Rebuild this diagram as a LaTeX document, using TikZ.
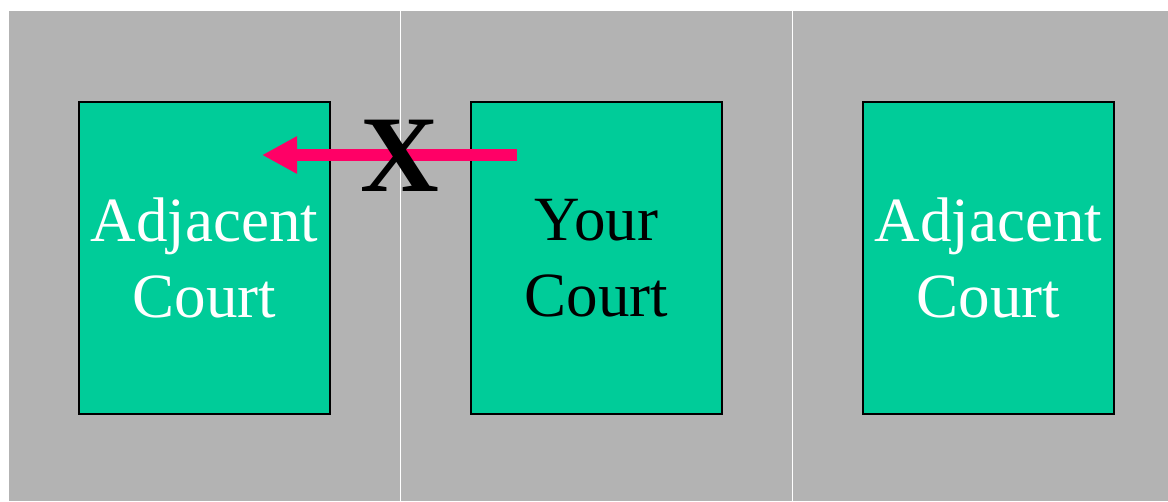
\documentclass[tikz,border=0pt]{standalone}
\usepackage{fontspec}
\setmainfont{Liberation Serif}
\usetikzlibrary{arrows.meta,positioning}

\definecolor{courtgreen}{RGB}{0,204,153}
\definecolor{floorgray}{RGB}{179,179,179}
\definecolor{shotpink}{RGB}{255,0,102}

\begin{document}
\begin{tikzpicture}[x=1pt, y=-1pt]

			\def\courtY{258}

			\tikzset{
				court/.style={draw=black, line width=2pt, fill=courtgreen,
					minimum width=251pt, minimum height=312pt, inner sep=0pt,
					align=center, font=\fontsize{63}{76}\selectfont},
				shot/.style={draw=shotpink, line width=12pt,
					-{Triangle[length=35pt, width=35pt]}}
			}

			\useasboundingbox (0, 0) rectangle (1168, 501);

			% Sfondo grigio e linee di separazione
			\fill[floorgray] (9, 11) rectangle (1168, 501);
			\draw[white, line width=1pt] (400, 11) -- (400, 501);
			\draw[white, line width=1pt] (792, 11) -- (792, 501);

			% --- CAMPI ---
			\node[court, text=white] (leftcourt) at (204.5, \courtY) {Adjacent\\Court};
			\node[court, text=black] (yourcourt) at (596.5, \courtY) {Your\\Court};
			\node[court, text=white] (rightcourt) at (988.5, \courtY) {Adjacent\\Court};

			% --- TIRO VERSO IL CAMPO ADIACENTE ---
			\coordinate (shottail) at (517, 155);
			\coordinate (shottip) at (262, 155);
			\draw[shot] (shottail) -- (shottip);

			\node[inner sep=0pt, font=\bfseries\fontsize{109}{109}\selectfont] (fault) at (400, 156) {X};

\end{tikzpicture}
\end{document}
